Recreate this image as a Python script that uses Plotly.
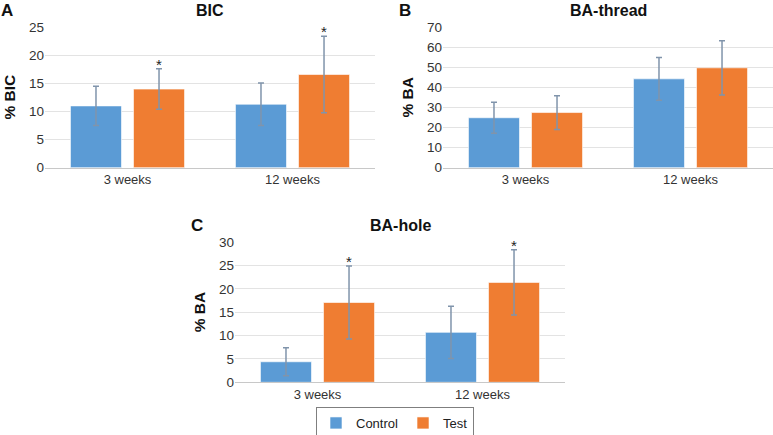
import plotly.graph_objects as go

# ---------------- data ----------------
categories = ["3 weeks", "12 weeks"]
series_names = ["Control", "Test"]

bic_control = [11.0, 11.3]
bic_control_err = [3.5, 3.8]
bic_test = [14.0, 16.6]
bic_test_err = [3.6, 6.8]
bic_test_sig = [True, True]

thread_control = [24.9, 44.3]
thread_control_err = [7.7, 10.7]
thread_test = [27.5, 49.8]
thread_test_err = [8.4, 13.5]
thread_test_sig = [False, False]

hole_control = [4.4, 10.7]
hole_control_err = [3.0, 5.6]
hole_test = [17.1, 21.4]
hole_test_err = [7.8, 7.0]
hole_test_sig = [True, True]

panels = [
    dict(letter="A", title="BIC", ytitle="% BIC", ymax=25, dtick=5,
         c=bic_control, ce=bic_control_err, t=bic_test, te=bic_test_err, sig=bic_test_sig),
    dict(letter="B", title="BA-thread", ytitle="% BA", ymax=70, dtick=10,
         c=thread_control, ce=thread_control_err, t=thread_test, te=thread_test_err, sig=thread_test_sig),
    dict(letter="C", title="BA-hole", ytitle="% BA", ymax=30, dtick=5,
         c=hole_control, ce=hole_control_err, t=hole_test, te=hole_test_err, sig=hole_test_sig),
]

# ---------------- style ----------------
W, H = 773, 435
FONT = "Liberation Sans, Arial, sans-serif"
CTRL = "#5B9BD5"
TEST = "#EF7D32"
ERR = "#8094AB"
GRID = "#E3E3E3"
AXIS = "#C8C8C8"
BARGAP = 0.236
GROUPGAP = 0.19

# pixel boxes (x0, x1, ytop, ybottom)
boxes = [(45, 375, 27.3, 167.7), (443, 773, 27.3, 167.7), (235, 565, 242.3, 382.3)]

fig = go.Figure()
annotations = []
layout_axes = {}

for k, (p, box) in enumerate(zip(panels, boxes)):
    x0, x1, yt, yb = box
    sfx = "" if k == 0 else str(k + 1)
    xa, ya = "x" + sfx, "y" + sfx
    for name, vals, errs, col, show in [
        ("Control", p["c"], p["ce"], CTRL, k == 0),
        ("Test", p["t"], p["te"], TEST, k == 0),
    ]:
        fig.add_trace(go.Bar(
            x=categories, y=vals, name=name,
            marker=dict(color=col, line=dict(color="rgba(255,255,255,0.6)", width=1)),
            error_y=dict(type="data", array=errs, visible=True, color=ERR, thickness=1.5, width=3),
            xaxis=xa, yaxis=ya, showlegend=show, legendgroup=name,
        ))
    # significance stars
    for i, s in enumerate(p["sig"]):
        if s:
            annotations.append(dict(
                x=i + (1 - BARGAP) / 4, y=p["t"][i] + p["te"][i], xref=xa, yref=ya,
                text="*", showarrow=False, yanchor="bottom", yshift=-6,
                font=dict(family=FONT, size=15, color="#222222")))
    dx = [x0 / W, x1 / W]
    dy = [1 - yb / H, 1 - yt / H]
    layout_axes["xaxis" + sfx] = dict(
        domain=dx, anchor=ya, type="category", showgrid=False, showline=True,
        linecolor=AXIS, linewidth=1, ticks="", automargin=False,
        tickfont=dict(family=FONT, size=13, color="#333333"), fixedrange=True)
    layout_axes["yaxis" + sfx] = dict(
        domain=dy, anchor=xa, range=[0, p["ymax"]], dtick=p["dtick"], showgrid=True,
        gridcolor=GRID, gridwidth=1, zeroline=False, showline=False, ticks="", automargin=False,
        tickfont=dict(family=FONT, size=13.5, color="#333333"), fixedrange=True)
    # titles
    annotations.append(dict(
        x=(x0 + x1) / 2 / W, y=1 - (yt - 16.5) / H, xref="paper", yref="paper",
        text="<b>%s</b>" % p["title"], showarrow=False, xanchor="center", yanchor="middle",
        font=dict(family=FONT, size=16, color="#111111")))
    # y-axis titles
    annotations.append(dict(
        x=(x0 - 36) / W, y=1 - (yt + yb) / 2 / H, xref="paper", yref="paper",
        text="<b>%s</b>" % p["ytitle"], showarrow=False, textangle=-90,
        xanchor="center", yanchor="middle",
        font=dict(family=FONT, size=15.5, color="#111111")))
    # panel letters
    annotations.append(dict(
        x=(x0 - 38) / W, y=1 - (yt - 17) / H, xref="paper", yref="paper",
        text="<b>%s</b>" % p["letter"], showarrow=False, xanchor="center", yanchor="middle",
        font=dict(family=FONT, size=17, color="#111111")))

fig.update_layout(
    width=W, height=H, margin=dict(l=0, r=0, t=0, b=0, autoexpand=False),
    paper_bgcolor="white", plot_bgcolor="white",
    barmode="group", bargap=BARGAP, bargroupgap=GROUPGAP,
    annotations=annotations,
    legend=dict(orientation="h", x=395 / W, y=1 - 423 / H, xanchor="center", yanchor="middle",
                bordercolor="#7F7F7F", borderwidth=1, font=dict(family=FONT, size=13, color="#222222"),
                itemwidth=30, tracegroupgap=0),
    showlegend=True,
    **layout_axes,
)

fig.write_html(
    "out.html",
    config={"displayModeBar": False},
    post_script="document.body.style.margin='0';document.body.style.overflow='hidden';",
)
